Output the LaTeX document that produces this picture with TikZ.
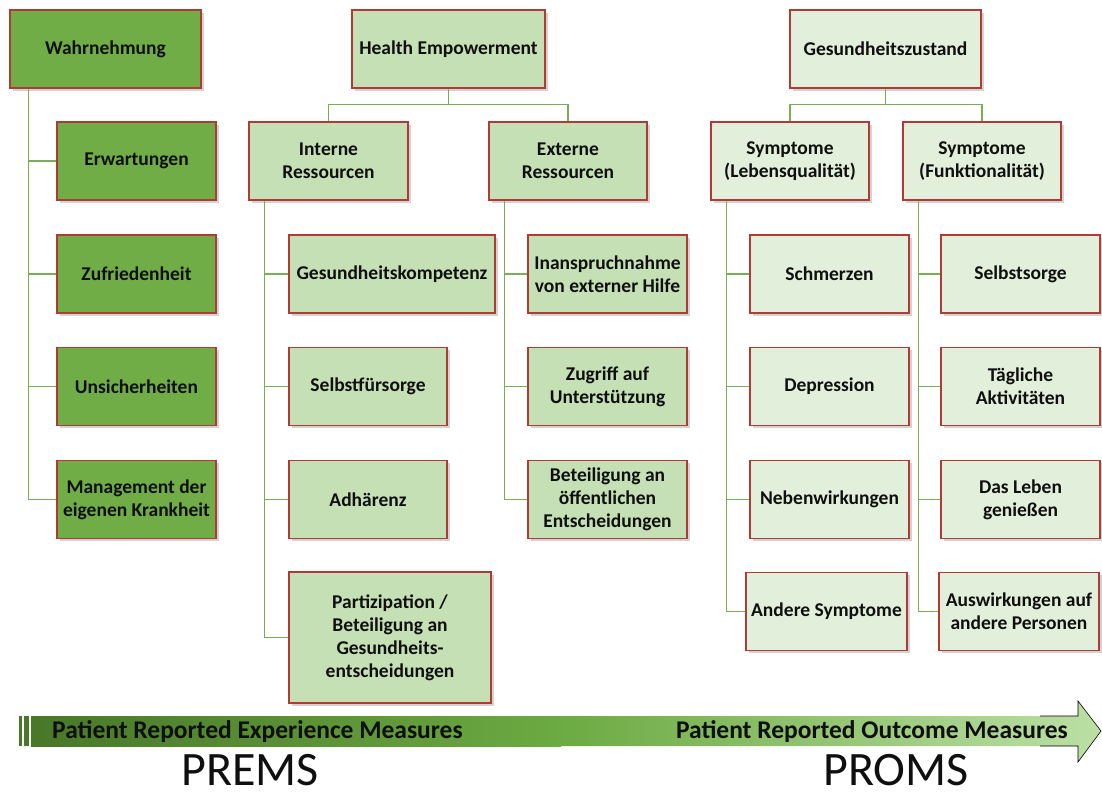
\documentclass[tikz,border=0pt]{standalone}
\usepackage{fontspec}
\setmainfont{Carlito}
\usetikzlibrary{shadows}
\definecolor{dg}{RGB}{112,173,71}
\definecolor{mg}{RGB}{197,224,180}
\definecolor{lg}{RGB}{226,239,218}
\definecolor{bd}{RGB}{178,58,52}
\definecolor{ln}{RGB}{120,175,85}
\definecolor{arL}{RGB}{72,120,40}
\definecolor{arM}{RGB}{108,170,66}
\definecolor{arR}{RGB}{188,224,165}
\definecolor{txt}{RGB}{15,15,15}
\begin{document}
\begin{tikzpicture}[x=1pt,y=-1pt,
  font=\fontsize{19.5}{23}\selectfont\bfseries,
  text=txt,
  box/.style={draw=bd, line width=1.3pt, align=center, inner sep=0pt,
    drop shadow={shadow xshift=2.5pt, shadow yshift=-2.5pt, opacity=0.35},
    minimum width=159pt, minimum height=78pt},
  boxA/.style={box, fill=dg},
  boxB/.style={box, fill=mg},
  boxC/.style={box, fill=lg},
  conn/.style={draw=ln, line width=1.1pt},
  bandtext/.style={font=\fontsize{25.5}{26}\selectfont\bfseries, inner sep=0pt},
  bigtext/.style={font=\fontsize{48}{48}\selectfont\mdseries, inner sep=0pt}]
\useasboundingbox (0,0) rectangle (1102,796);

% column 1
\node[boxA, minimum width=191pt] (wahr) at (105.5,49) {Wahrnehmung};
\node[boxA] (erw) at (136.5,161) {Erwartungen};
\node[boxA] (zuf) at (136.5,274) {Zufriedenheit};
\node[boxA] (uns) at (136.5,386.5) {Unsicherheiten};
\node[boxA] (man) at (136.5,499.5) {Management der\\eigenen Krankheit};

% column 2
\node[boxB, minimum width=193pt] (he) at (448.5,49) {Health Empowerment};
\node[boxB] (ir) at (328.5,161) {Interne\\Ressourcen};
\node[boxB, minimum width=158pt] (er) at (568,161) {Externe\\Ressourcen};
\node[boxB, minimum width=206pt] (gk) at (392,274) {Gesundheitskompetenz};
\node[boxB, minimum width=158pt] (sf) at (368,386.5) {Selbstfürsorge};
\node[boxB, minimum width=158pt] (adh) at (368,499.5) {Adhärenz};
\node[boxB, minimum width=202pt, minimum height=131pt] (part) at (390,637.5) {Partizipation /\\Beteiligung an\\Gesundheits-\\entscheidungen};
\node[boxB] (inan) at (607.5,274) {Inanspruchnahme\\von externer Hilfe};
\node[boxB] (zug) at (607.5,386.5) {Zugriff auf\\Unterstützung};
\node[boxB] (bet) at (607.5,499.5) {Beteiligung an\\öffentlichen\\Entscheidungen};

% column 3
\node[boxC, minimum width=191pt] (gz) at (885.5,49) {Gesundheitszustand};
\node[boxC, minimum width=158pt] (sl) at (790,161) {Symptome\\(Lebensqualität)};
\node[boxC, minimum width=158pt] (sfk) at (982,161) {Symptome\\(Funktionalität)};
\node[boxC] (schm) at (829.5,274) {Schmerzen};
\node[boxC] (dep) at (829.5,386.5) {Depression};
\node[boxC] (neb) at (829.5,499.5) {Nebenwirkungen};
\node[boxC, minimum width=161pt] (and) at (826.5,611.5) {Andere Symptome};
\node[boxC] (sels) at (1020.5,274) {Selbstsorge};
\node[boxC] (tag) at (1020.5,386.5) {Tägliche\\Aktivitäten};
\node[boxC] (das) at (1020.5,499.5) {Das Leben\\genießen};
\node[boxC, minimum width=160pt] (ausw) at (1019,611.5) {Auswirkungen auf\\andere Personen};

% connectors
\path[conn] ([xshift=19pt]wahr.south west) |- (erw.west);
\path[conn] ([xshift=19pt]wahr.south west) |- (zuf.west);
\path[conn] ([xshift=19pt]wahr.south west) |- (uns.west);
\path[conn] ([xshift=19pt]wahr.south west) |- (man.west);

\path[conn] (he.south) -- ++(0,16) -| (ir.north);
\path[conn] (he.south) -- ++(0,16) -| (er.north);
\path[conn] ([xshift=16pt]ir.south west) |- (gk.west);
\path[conn] ([xshift=16pt]ir.south west) |- (sf.west);
\path[conn] ([xshift=16pt]ir.south west) |- (adh.west);
\path[conn] ([xshift=16pt]ir.south west) |- (part.west);
\path[conn] ([xshift=16pt]er.south west) |- (inan.west);
\path[conn] ([xshift=16pt]er.south west) |- (zug.west);
\path[conn] ([xshift=16pt]er.south west) |- (bet.west);

\path[conn] (gz.south) -- ++(0,16) -| (sl.north);
\path[conn] (gz.south) -- ++(0,16) -| (sfk.north);
\path[conn] ([xshift=16pt]sl.south west) |- (schm.west);
\path[conn] ([xshift=16pt]sl.south west) |- (dep.west);
\path[conn] ([xshift=16pt]sl.south west) |- (neb.west);
\path[conn] ([xshift=16pt]sl.south west) |- (and.west);
\path[conn] ([xshift=16pt]sfk.south west) |- (sels.west);
\path[conn] ([xshift=16pt]sfk.south west) |- (tag.west);
\path[conn] ([xshift=16pt]sfk.south west) |- (das.west);
\path[conn] ([xshift=16pt]sfk.south west) |- (ausw.west);

% arrow
\fill[arL] (19,716) rectangle (22,746);
\fill[arL] (24,716) rectangle (29,746);
\shade[left color=arL, right color=arM] (31,716) rectangle (561,746);
\shade[left color=arM, right color=arR]
  (560,716) -- (1078,716) -- (1078,701) -- (1101,731) -- (1078,762) -- (1078,746) -- (560,746) -- cycle;
\draw[draw={RGB:red,140;green,190;blue,110}, line width=0.6pt]
  (1040,716) -- (1078,716) -- (1078,701) -- (1101,731) -- (1078,762) -- (1078,746) -- (1040,746);
\node[anchor=west, bandtext] (pre) at (52,732) {Patient Reported Experience Measures};
\node[anchor=east, bandtext] (pro) at (1068,732) {Patient Reported Outcome Measures};
\node[anchor=base, bigtext] (prems) at (250,785) {PREMS};
\node[anchor=base, bigtext] (proms) at (896,785) {PROMS};
\end{tikzpicture}
\end{document}
